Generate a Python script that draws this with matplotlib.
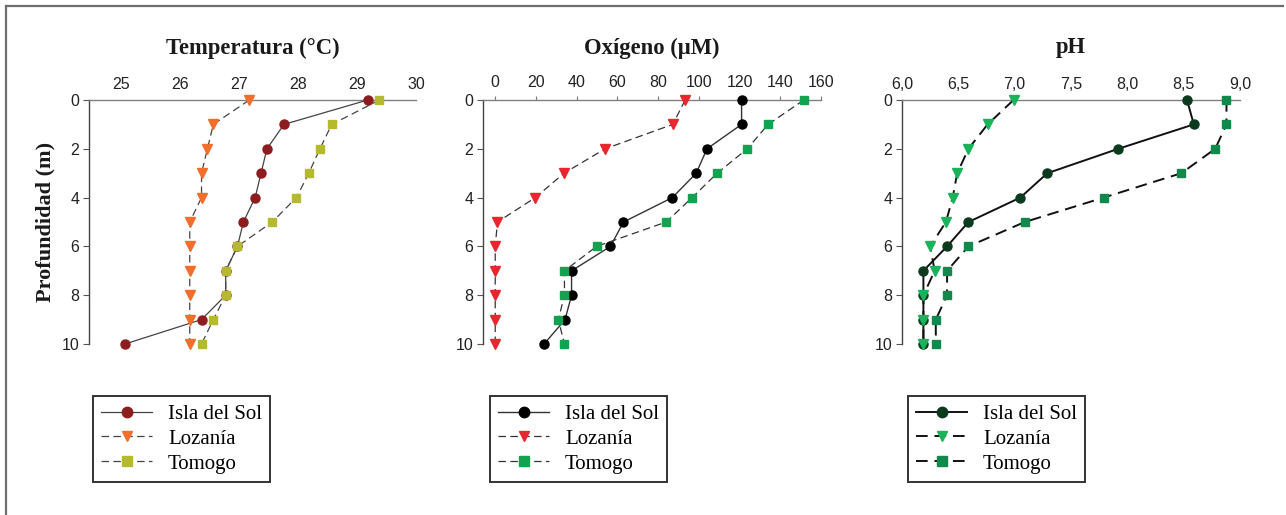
import matplotlib
matplotlib.use("Agg")
import matplotlib.pyplot as plt
from matplotlib.lines import Line2D

depth = [0, 1, 2, 3, 4, 5, 6, 7, 8, 9, 10]

temp_isla = [29.18, 27.76, 27.47, 27.37, 27.27, 27.07, 26.97, 26.77, 26.77, 26.36, 25.06]
temp_loz = [27.17, 26.56, 26.46, 26.36, 26.36, 26.16, 26.16, 26.16, 26.16, 26.16, 26.16]
temp_tom = [29.38, 28.57, 28.37, 28.18, 27.97, 27.56, 26.97, 26.77, 26.77, 26.56, 26.36]

oxy_isla = [121, 121, 104, 98.7, 87, 63, 56.6, 37.5, 37.5, 34.3, 24]
oxy_loz = [93.3, 87.2, 54, 33.8, 19.7, 1.1, 0, 0, 0, 0, 0]
oxy_tom = [151.6, 134, 123.8, 109, 96.7, 84, 49.8, 34, 34, 31, 34]

ph_isla = [8.53, 8.59, 7.92, 7.29, 7.05, 6.59, 6.40, 6.19, 6.19, 6.19, 6.19]
ph_loz = [6.99, 6.76, 6.59, 6.49, 6.45, 6.39, 6.25, 6.29, 6.19, 6.19, 6.19]
ph_tom = [8.88, 8.88, 8.78, 8.48, 7.79, 7.09, 6.59, 6.40, 6.40, 6.30, 6.30]

series_names = ["Isla del Sol", "Lozanía", "Tomogo"]
titles = ["Temperatura (°C)", "Oxígeno (µM)", "pH"]
temp_ticks = [25, 26, 27, 28, 29, 30]
oxy_ticks = [0, 20, 40, 60, 80, 100, 120, 140, 160]
ph_ticks = [6.0, 6.5, 7.0, 7.5, 8.0, 8.5, 9.0]
ph_ticklabels = ["6,0", "6,5", "7,0", "7,5", "8,0", "8,5", "9,0"]
depth_ticks = [0, 2, 4, 6, 8, 10]

W, H = 1286, 515
fig = plt.figure(figsize=(W / 100, H / 100), dpi=100)

sans = ["Liberation Sans", "DejaVu Sans"]
serif = ["Liberation Serif", "DejaVu Serif"]

# outer frame (left and top)
fig.add_artist(Line2D([5.5 / W, 5.5 / W], [0, 1 - 5.5 / H], transform=fig.transFigure,
                      color="#6e6e6e", lw=1.6))
fig.add_artist(Line2D([5.5 / W, 1283 / W], [1 - 5.5 / H, 1 - 5.5 / H], transform=fig.transFigure,
                      color="#6e6e6e", lw=1.6))

panels = [
    dict(left=89, right=416, xlim=(24.45, 30.0), ticks=temp_ticks, labels=[str(t) for t in temp_ticks],
         data=[temp_isla, temp_loz, temp_tom],
         colors=["#8d1c1f", "#f36e2b", "#b4b92f"], lcol="#444444", lw=[0.9, 0.9, 0.9], ticklen=0,
         legx=93),
    dict(left=483, right=821, xlim=(-6, 160), ticks=oxy_ticks, labels=[str(t) for t in oxy_ticks],
         data=[oxy_isla, oxy_loz, oxy_tom],
         colors=["#000000", "#e8262f", "#13a24f"], lcol="#333333", lw=[1.0, 0.9, 0.9], ticklen=3,
         legx=490),
    dict(left=902, right=1240, xlim=(6.0, 8.98), ticks=ph_ticks, labels=ph_ticklabels,
         data=[ph_isla, ph_loz, ph_tom],
         colors=["#0c3a1f", "#19b35a", "#0f8a4c"], lcol="#111111", lw=[1.4, 1.4, 1.4], ticklen=0,
         legx=908),
]

top_px, bot_px = 100, 344
markers = ["o", "v", "s"]
msizes = [6.5, 6.5, 6.0]
styles = ["-", (0, (6, 3.5)), (0, (6, 3.5))]

for p in panels:
    ax = fig.add_axes([p["left"] / W, 1 - bot_px / H, (p["right"] - p["left"]) / W, (bot_px - top_px) / H])
    handles = []
    for vals, name, mk, ms, st, col, lw in zip(p["data"], series_names, markers, msizes, styles,
                                               p["colors"], p["lw"]):
        h, = ax.plot(vals, depth, linestyle=st, color=p["lcol"], lw=lw, marker=mk, ms=ms,
                     markerfacecolor=col, markeredgecolor=col, clip_on=False, zorder=3, label=name)
        handles.append(h)
    ax.set_xlim(*p["xlim"])
    ax.set_ylim(10, 0)
    ax.xaxis.tick_top()
    ax.set_xticks(p["ticks"])
    ax.set_xticklabels(p["labels"], fontfamily=sans, fontsize=11.5, color="#222222")
    ax.set_yticks(depth_ticks)
    ax.set_yticklabels([str(d) for d in depth_ticks], fontfamily=sans, fontsize=11.5, color="#222222")
    ax.tick_params(axis="x", length=p["ticklen"], width=0.8, color="#777777", pad=6 - p["ticklen"] * 0.7)
    ax.tick_params(axis="y", length=4, width=0.8, color="#555555", pad=3)
    for s in ["bottom", "right"]:
        ax.spines[s].set_visible(False)
    ax.spines["top"].set_color("#808080")
    ax.spines["top"].set_linewidth(1.0)
    ax.spines["left"].set_color("#444444")
    ax.spines["left"].set_linewidth(1.0)
    ax.patch.set_visible(False)

    leg = ax.legend(handles=handles, loc="upper left",
                    bbox_to_anchor=(p["legx"] / W, 1 - 396 / H), bbox_transform=fig.transFigure,
                    borderaxespad=0, fancybox=False, framealpha=1, edgecolor="#333333",
                    prop={"family": serif, "size": 15}, handlelength=2.45, handletextpad=0.75,
                    labelspacing=0.25, borderpad=0.4, numpoints=1, markerscale=1.15)
    leg.get_frame().set_linewidth(1.4)

for p, t in zip(panels, titles):
    cx = (p["left"] + p["right"]) / 2 / W
    fig.text(cx, 1 - 48 / H, t, ha="center", va="center", fontfamily=serif, fontweight="bold",
             fontsize=16.3, color="#1a1a1a")

fig.text(45 / W, 1 - 222 / H, "Profundidad (m)", rotation=90, ha="center", va="center",
         fontfamily=serif, fontweight="bold", fontsize=16, color="#1a1a1a")

fig.savefig("out.png", dpi=100)
